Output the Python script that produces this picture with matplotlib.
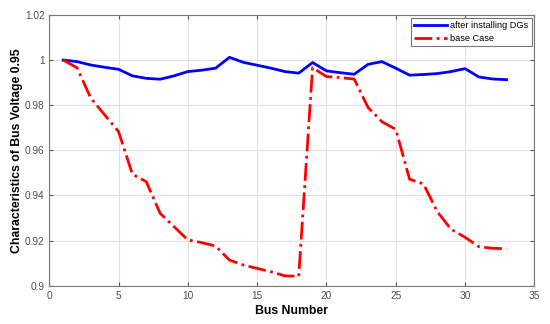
import matplotlib
matplotlib.use('Agg')
import matplotlib.pyplot as plt

# bus voltages
bus = list(range(1, 34))
v_dg = [1.0, 0.9993, 0.9978, 0.9968, 0.9959, 0.9930, 0.9919, 0.9915, 0.9930, 0.9949,
        0.9955, 0.9964, 1.0012, 0.9990, 0.9977, 0.9964, 0.9949, 0.9942, 0.9989, 0.9952,
        0.9944, 0.9937, 0.9981, 0.9993, 0.9964, 0.9933, 0.9936, 0.9940, 0.9949, 0.9962,
        0.9925, 0.9916, 0.9913]
v_base = [1.0, 0.9966, 0.9831, 0.9757, 0.9683, 0.9494, 0.9461, 0.9321, 0.9262, 0.9203,
          0.9191, 0.9176, 0.9114, 0.9092, 0.9077, 0.9062, 0.9044, 0.9042, 0.9966, 0.9927,
          0.9922, 0.9916, 0.9790, 0.9727, 0.9693, 0.9472, 0.9451, 0.9328, 0.9250, 0.9215,
          0.9173, 0.9166, 0.9164]

yticks = [0.9, 0.92, 0.94, 0.96, 0.98, 1.0, 1.02]
ytick_labels = ['0.9', '0.92', '0.94', '0.96', '0.98', '1', '1.02']
xticks = [0, 5, 10, 15, 20, 25, 30, 35]

plt.rcParams['font.family'] = ['Liberation Sans', 'DejaVu Sans']

fig = plt.figure(figsize=(5.5, 3.24), dpi=100)
ax = fig.add_axes([0.0896, 0.118, 0.8819, 0.836])

ax.plot(bus, v_dg, color='#0000ff', lw=2, label='after installing DGs')
ax.plot(bus, v_base, color='#ff0000', lw=2, ls='-.', label='base Case')

ax.set_xlim(0, 35)
ax.set_ylim(0.9, 1.02)
ax.set_xticks(xticks)
ax.set_yticks(yticks)
ax.set_yticklabels(ytick_labels)
ax.grid(True, color='#e0e0e0', lw=0.8)
ax.set_axisbelow(True)
ax.tick_params(direction='in', length=3, colors='#555555', labelsize=7.3,
               top=True, right=True, labelcolor='#4d4d4d')
for sp in ax.spines.values():
    sp.set_color('#777777')

ax.set_xlabel('Bus Number', fontsize=8.8, fontweight='bold', labelpad=3)
ax.set_ylabel('Characteristics of Bus Voltage 0.95', fontsize=8.8,
              fontweight='bold')
ax.yaxis.set_label_coords(-0.054, 0.5)

leg = ax.legend(loc='upper right', fontsize=6.6, fancybox=False, framealpha=1,
                borderaxespad=0.3, handlelength=3.5, borderpad=0.35, labelspacing=0.45,
                handletextpad=0.4)
leg.get_frame().set_edgecolor('#777777')
leg.get_frame().set_linewidth(0.8)

plt.savefig('out.png', dpi=100)
